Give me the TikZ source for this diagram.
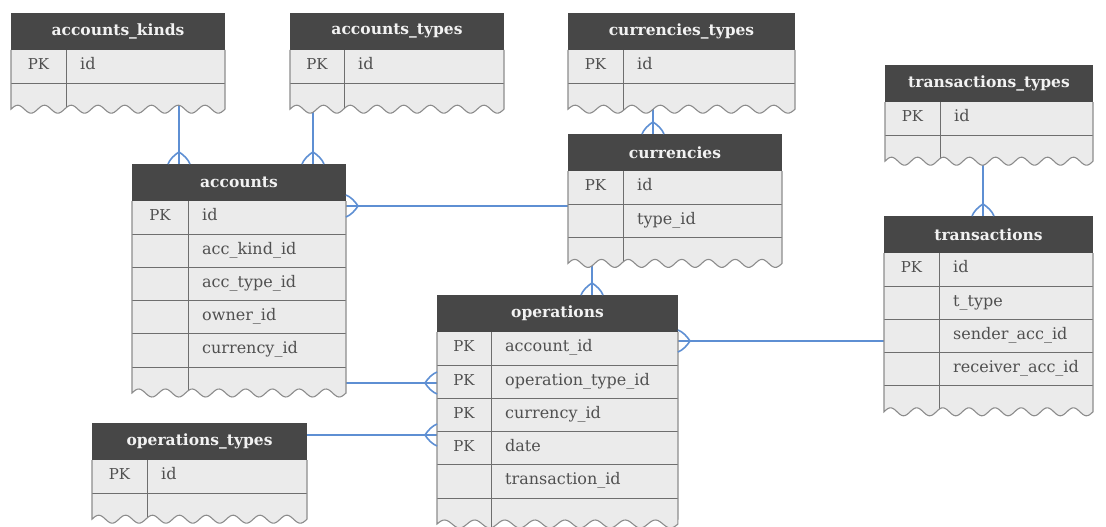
\documentclass[tikz,border=0pt]{standalone}
\usepackage{fontspec}
\setmainfont{DejaVu Serif}
\definecolor{hdrgray}{HTML}{474747}
\definecolor{bodygray}{HTML}{EBEBEB}
\definecolor{edgegray}{HTML}{8C8C8C}
\definecolor{gridgray}{HTML}{6E6E6E}
\definecolor{txtgray}{HTML}{505050}
\definecolor{hdrtxt}{HTML}{F2F2F2}
\definecolor{linkblue}{HTML}{5E8FD3}
\pgfdeclarelayer{links}
\pgfsetlayers{links,main}
\tikzset{
  tablebox/.style={draw=none, inner sep=0pt, outer sep=0pt},
  hdr/.style={fill=hdrgray},
  bodyfill/.style={fill=bodygray},
  border/.style={draw=edgegray, line width=1.1pt},
  grid/.style={draw=gridgray, line width=0.9pt},
  title/.style={text=hdrtxt, font=\fontsize{15.5}{18}\selectfont\bfseries, inner sep=0pt},
  keytxt/.style={text=txtgray, font=\fontsize{15}{18}\selectfont, inner sep=0pt, text height=1.6ex, text depth=.3ex},
  fieldtxt/.style={text=txtgray, font=\fontsize{16}{18}\selectfont, inner sep=0pt, anchor=west, text height=1.6ex, text depth=.3ex},
  rel/.style={draw=linkblue, line width=1.6pt},
  crow/.pic={\draw[rel] (0,-11) .. controls (4,-9.5) and (9,-5) .. (12,0) .. controls (9,5) and (4,9.5) .. (0,11);}
}
% #1 name, #2 left, #3 top, #4 width, #5 key column width, #6 title, #7 row count, #8 key/field rows
\newcommand\ertable[8]{%
  \pgfmathsetmacro\ertR{#2+#4}%
  \pgfmathsetmacro\ertK{#2+#5}%
  \pgfmathsetmacro\ertH{#3+37}%
  \pgfmathsetmacro\ertB{\ertH+#7*33.2}%
  \pgfmathsetmacro\ertW{\ertB+26}%
  \pgfmathsetmacro\ertHt{\ertW-4-#3}%
  \node[tablebox, minimum width=#4pt, minimum height=\ertHt pt, anchor=north west] (#1) at (#2,#3) {};
  \fill[bodyfill] (#2,\ertH) -- (\ertR,\ertH) -- (\ertR,\ertW)
    -- plot[variable=\t, domain=0:1, samples=121] ({\ertR-#4*\t},{\ertW+4*sin(\t*8*360)}) -- cycle;
  \fill[hdr] (#2,#3) rectangle (\ertR,\ertH);
  \foreach \i in {1,...,#7} {\draw[grid] (#2,{\ertH+\i*33.2}) -- (\ertR,{\ertH+\i*33.2});}
  \draw[grid] (\ertK,\ertH) -- (\ertK,{\ertW+4*sin((1-#5/#4)*8*360)});
  \draw[border] (#2,\ertH) -- (#2,\ertW)
    -- plot[variable=\t, domain=1:0, samples=121] ({\ertR-#4*\t},{\ertW+4*sin(\t*8*360)}) -- (\ertR,\ertH);
  \node[title] (#1-title) at ({(#2+\ertR)/2},{(#3+\ertH)/2}) {#6};
  \foreach \k/\f [count=\i] in {#8} {
    \node[keytxt] (#1-k\i) at ({(#2+\ertK)/2},{\ertH+(\i-0.5)*33.2}) {\k};
    \node[fieldtxt] (#1-f\i) at ({\ertK+14},{\ertH+(\i-0.5)*33.2}) {\f};
  }
}
\begin{document}
\begin{tikzpicture}[x=1pt,y=-1pt]
\useasboundingbox (0,0) rectangle (1106,527);
\clip (0,0) rectangle (1106,527);

% tables
\ertable{kinds}{11}{13}{214}{55}{accounts\_kinds}{1}{PK/id}
\ertable{atypes}{290}{13}{214}{54}{accounts\_types}{1}{PK/id}
\ertable{ctypes}{568}{13}{227}{55}{currencies\_types}{1}{PK/id}
\ertable{ttypes}{885}{65}{208}{55}{transactions\_types}{1}{PK/id}
\ertable{curr}{568}{134}{214}{55}{currencies}{2}{PK/id,/type\_id}
\ertable{acc}{132}{164}{214}{56}{accounts}{5}{PK/id,/acc\_kind\_id,/acc\_type\_id,/owner\_id,/currency\_id}
\ertable{trans}{884}{216}{209}{55}{transactions}{4}{PK/id,/t\_type,/sender\_acc\_id,/receiver\_acc\_id}
\ertable{ops}{437}{295}{241}{54}{operations}{5}{PK/account\_id,PK/operation\_type\_id,PK/currency\_id,PK/date,/transaction\_id}
\ertable{otypes}{92}{423}{215}{55}{operations\_types}{1}{PK/id}

% connector guides
\coordinate (vk) at (179,0);
\coordinate (va) at (313,0);
\coordinate (vc) at (653,0);
\coordinate (vo) at (592,0);
\coordinate (vt) at (983,0);
\coordinate (hc) at (0,206);
\coordinate (ha) at (0,383);
\coordinate (ho) at (0,435);
\coordinate (ht) at (0,341);

\begin{pgfonlayer}{links}
  \draw[rel] (kinds.south -| vk) -- (acc.north -| vk);
  \draw[rel] (atypes.south -| va) -- (acc.north -| va);
  \draw[rel] (ctypes.south -| vc) -- (curr.north -| vc);
  \draw[rel] (curr.south -| vo) -- (ops.north -| vo);
  \draw[rel] (ttypes.south -| vt) -- (trans.north -| vt);
  \draw[rel] (acc.east |- hc) -- (curr.west |- hc);
  \draw[rel] (acc.east |- ha) -- (ops.west |- ha);
  \draw[rel] (otypes.east |- ho) -- (ops.west |- ho);
  \draw[rel] (ops.east |- ht) -- (trans.west |- ht);
\end{pgfonlayer}

% crow's feet
\pic[rotate=90] at (acc.north -| vk) {crow};
\pic[rotate=90] at (acc.north -| va) {crow};
\pic[rotate=90] at (curr.north -| vc) {crow};
\pic[rotate=90] at (ops.north -| vo) {crow};
\pic[rotate=90] at (trans.north -| vt) {crow};
\pic at (acc.east |- hc) {crow};
\pic[rotate=180] at (ops.west |- ha) {crow};
\pic[rotate=180] at (ops.west |- ho) {crow};
\pic at (ops.east |- ht) {crow};
\end{tikzpicture}
\end{document}
